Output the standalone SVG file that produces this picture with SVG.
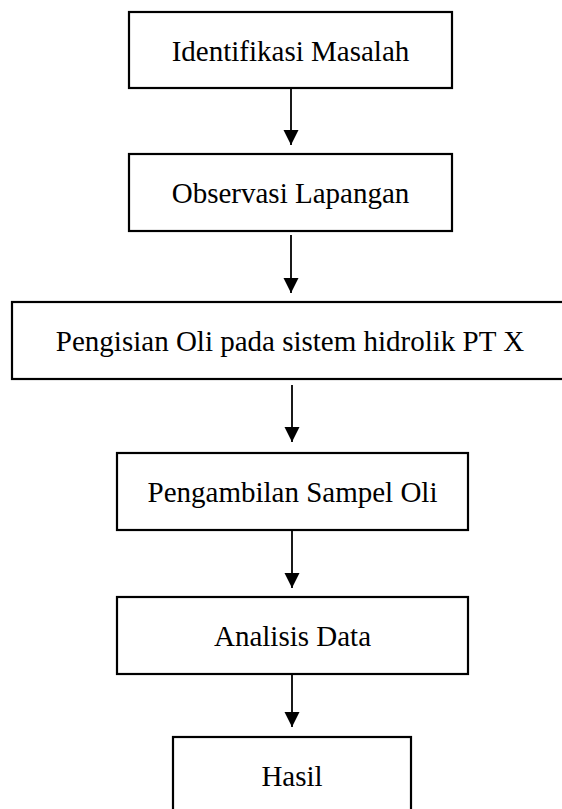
<svg xmlns="http://www.w3.org/2000/svg" width="562" height="809" viewBox="0 0 562 809">
  <style>
    .box { fill: #ffffff; stroke: #000000; stroke-width: 2.2; }
    .label { font-family: "Liberation Serif", "Times New Roman", serif; font-size: 29px; fill: #000000; text-anchor: middle; }
    .link { stroke: #000000; stroke-width: 1.8; fill: none; marker-end: url(#arrow); }
  </style>
  <defs>
    <marker id="arrow" markerUnits="userSpaceOnUse" markerWidth="16" markerHeight="16" viewBox="0 0 16 16" refX="15" refY="8" orient="auto">
      <path d="M0,0.5 L15,8 L0,15.5 Z" fill="#000000"/>
    </marker>
  </defs>
  <rect width="562" height="809" fill="#ffffff"/>

  <g id="connectors">
    <line class="link" x1="291" y1="88" x2="291" y2="145"/>
    <line class="link" x1="291" y1="235" x2="291" y2="293"/>
    <line class="link" x1="292" y1="385" x2="292" y2="442"/>
    <line class="link" x1="292" y1="530" x2="292" y2="588"/>
    <line class="link" x1="292" y1="674" x2="292" y2="727"/>
  </g>

  <g id="identifikasi-masalah">
    <rect class="box" x="129" y="12" width="323" height="76"/>
    <text class="label" x="290.5" y="61">Identifikasi Masalah</text>
  </g>
  <g id="observasi-lapangan">
    <rect class="box" x="129" y="154" width="323" height="77"/>
    <text class="label" x="290.5" y="203">Observasi Lapangan</text>
  </g>
  <g id="pengisian-oli">
    <rect class="box" x="12" y="302" width="556" height="77"/>
    <text class="label" x="290" y="351">Pengisian Oli pada sistem hidrolik PT X</text>
  </g>
  <g id="pengambilan-sampel">
    <rect class="box" x="117" y="453" width="351" height="77"/>
    <text class="label" x="292.5" y="502">Pengambilan Sampel Oli</text>
  </g>
  <g id="analisis-data">
    <rect class="box" x="117" y="597" width="351" height="77"/>
    <text class="label" x="292.5" y="646">Analisis Data</text>
  </g>
  <g id="hasil">
    <rect class="box" x="173" y="737" width="238" height="77"/>
    <text class="label" x="292" y="786">Hasil</text>
  </g>
</svg>
